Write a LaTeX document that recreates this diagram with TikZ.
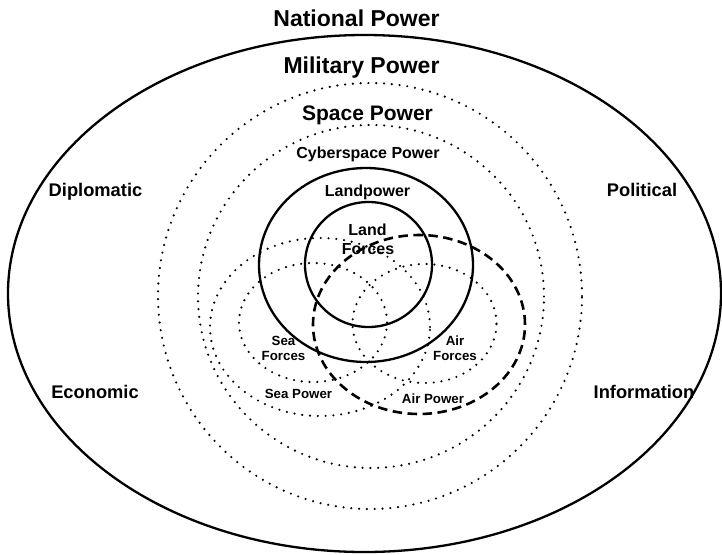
\documentclass[tikz,border=0pt]{standalone}
\usepackage{fontspec}
\setmainfont{Liberation Sans}
\begin{document}
\begin{tikzpicture}[x=1pt,y=-1pt,
  solidline/.style={line width=2.3pt},
  dotline/.style={line width=2.4pt, line cap=round, dash pattern=on 0pt off 7.8pt},
  dashline/.style={line width=2.6pt, dash pattern=on 9.5pt off 5.5pt},
  lbl/.style={inner sep=0pt, anchor=base},
  fA/.style={font=\fontsize{23}{27}\selectfont\bfseries},
  fB/.style={font=\fontsize{21}{25}\selectfont\bfseries},
  fC/.style={font=\fontsize{16}{19}\selectfont\bfseries},
  fD/.style={font=\fontsize{18.3}{22}\selectfont\bfseries},
  fE/.style={font=\fontsize{13.3}{16}\selectfont\bfseries}]
\useasboundingbox (0,0) rectangle (722,554);
% ellipses
\draw[solidline] (364.5,293.5) ellipse [x radius=356.5pt, y radius=258.5pt];
\draw[dotline] (370,296) ellipse [x radius=212pt, y radius=213pt];
\draw[dotline] (371,296.5) ellipse [x radius=173pt, y radius=171.5pt];
\draw[solidline] (366,265) ellipse [x radius=107pt, y radius=97pt];
\draw[solidline] (368.5,264.5) ellipse [x radius=63.5pt, y radius=62.5pt];
\draw[dotline] (320,327) ellipse [x radius=110pt, y radius=89pt];
\draw[dotline] (313,322.5) ellipse [x radius=74pt, y radius=59.5pt];
\draw[dotline] (424.5,323.5) ellipse [x radius=72pt, y radius=59.5pt];
\draw[dashline] (419,324.5) ellipse [x radius=106pt, y radius=89.5pt];
% labels
\node[lbl,fA] (national) at (356.5,26) {National Power};
\node[lbl,fA] (military) at (361.5,73.5) {Military Power};
\node[lbl,fB] (space) at (367.5,120) {Space Power};
\node[lbl,fC] (cyber) at (368,158.3) {Cyberspace Power};
\node[lbl,fC] (landpower) at (367.5,196) {Landpower};
\node[lbl,fC] (landA) at (367.5,235.7) {Land};
\node[lbl,fC] (landB) at (368,254) {Forces};
\node[lbl,fE] (seaA) at (283.5,345.7) {Sea};
\node[lbl,fE] (seaB) at (283.5,360.7) {Forces};
\node[lbl,fE] (airA) at (455,345.7) {Air};
\node[lbl,fE] (airB) at (455,360.7) {Forces};
\node[lbl,fE] (seapower) at (298.5,398.3) {Sea Power};
\node[lbl,fE] (airpower) at (433,403.3) {Air Power};
\node[lbl,fD] (diplomatic) at (95.5,196.7) {Diplomatic};
\node[lbl,fD] (political) at (642,196.7) {Political};
\node[lbl,fD] (economic) at (95,398.3) {Economic};
\node[lbl,fD] (information) at (644,398.3) {Information};
\end{tikzpicture}
\end{document}
